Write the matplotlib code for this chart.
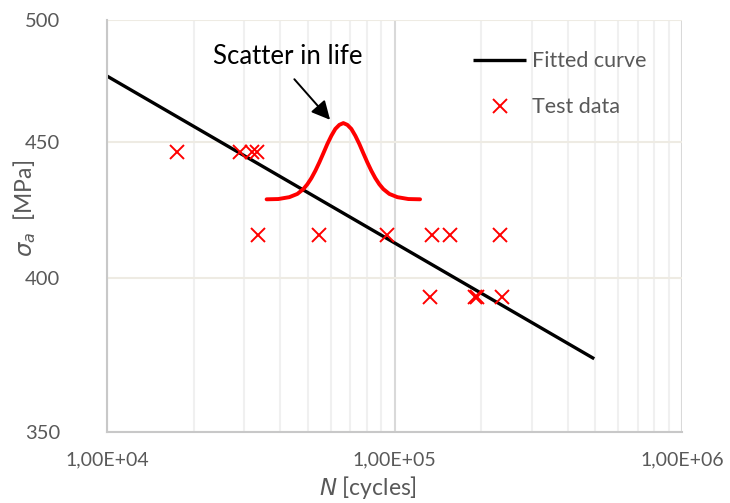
import matplotlib
matplotlib.use("Agg")
import matplotlib.pyplot as plt
from matplotlib.ticker import FixedLocator, NullLocator, LogLocator, NullFormatter

plt.rcParams['font.family'] = ['Lato', 'DejaVu Sans']
plt.rcParams['mathtext.fontset'] = 'dejavusans'

# Fitted curve (straight in log-log)
fit_N = [1.0e4, 4.95e5]
fit_S = [476.3, 372.9]

# Test data
test_N = [17500, 29000, 32000, 33300, 33500, 54600, 94200, 135000, 156000, 232800,
          132900, 190000, 194000, 236500]
test_S = [446, 446, 446, 446, 415, 415, 415, 415, 415, 415,
          393.5, 393.5, 393.5, 393.5]

# Scatter-in-life bell curve
bell_N = [35900, 39430, 43070, 45920, 48180, 49740, 51370, 53040, 54760, 56550, 58390,
          60290, 62250, 64280, 66370, 68530, 70760, 73070, 75440, 77900, 80440, 83060,
          85760, 88550, 91430, 95930, 102280, 111720, 122700]
bell_S = [428.1, 428.2, 428.9, 430.1, 431.9, 433.7, 436.0, 438.8, 442.0, 445.5, 449.1,
          452.3, 455.0, 456.6, 457.3, 456.6, 455.0, 452.3, 449.1, 445.5, 442.0, 438.8,
          436.0, 433.7, 431.9, 430.1, 428.9, 428.2, 428.1]

# Annotation
note_text = 'Scatter in life'
note_text_pos = (42640, 484.5)
arrow_tail = (44830, 475.0)
arrow_tip = (59680, 458.6)

y_ticks = [350, 400, 450, 500]
x_ticks = [1e4, 1e5, 1e6]
x_tick_labels = ["1,00E+04", "1,00E+05", "1,00E+06"]

grey_txt = '#595959'

fig = plt.figure(figsize=(7.30, 5.03), dpi=100)
ax = fig.add_axes([0.1466, 0.1412, 0.7877, 0.8191])
ax.set_xscale('log')
ax.set_yscale('log')
ax.set_xlim(1e4, 1e6)
ax.set_ylim(350, 500)

ax.yaxis.set_major_locator(FixedLocator(y_ticks))
ax.yaxis.set_minor_locator(NullLocator())
ax.set_yticklabels([str(v) for v in y_ticks])
ax.xaxis.set_major_locator(FixedLocator(x_ticks))
ax.set_xticklabels(x_tick_labels)
ax.xaxis.set_minor_locator(LogLocator(base=10, subs=range(2, 10)))
ax.xaxis.set_minor_formatter(NullFormatter())

ax.grid(True, which='major', axis='y', color='#eeebe3', lw=1.5)
ax.grid(True, which='major', axis='x', color='#d9d9d9', lw=1.5)
ax.grid(True, which='minor', axis='x', color='#f0f0f0', lw=1.5)
ax.set_axisbelow(True)

for s in ['top', 'right']:
    ax.spines[s].set_visible(False)
ax.spines['left'].set_color('#c8c8c8')
ax.spines['bottom'].set_color('#c8c8c8')
ax.spines['left'].set_linewidth(1.5)
ax.spines['bottom'].set_linewidth(1.5)

ax.tick_params(which='both', length=0)
ax.tick_params(axis='y', pad=59, labelsize=14.5, labelcolor=grey_txt)
ax.tick_params(axis='x', pad=14, labelsize=14, labelcolor=grey_txt)
for lab in ax.get_yticklabels():
    lab.set_horizontalalignment('left')

ax.plot(fit_N, fit_S, color='black', lw=2.4, solid_capstyle='butt', label='Fitted curve')
ax.plot(test_N, test_S, ls='none', marker='x', ms=10.5, mew=1.4, color='#ff0000', label='Test data')
ax.plot(bell_N, bell_S, color='#ff0000', lw=2.8, solid_capstyle='round', solid_joinstyle='round')

ax.text(note_text_pos[0], note_text_pos[1], note_text, fontsize=18.5, color='black',
        ha='center', va='center')
ax.annotate('', xy=arrow_tip, xytext=arrow_tail,
            arrowprops=dict(arrowstyle='-|>', color='black', lw=1.4,
                            mutation_scale=28, shrinkA=0, shrinkB=0))

leg = ax.legend(loc='upper left', bbox_to_anchor=(0.6365, 0.924), frameon=False,
                borderpad=0, borderaxespad=0,
                fontsize=15.5, handlelength=2.47, labelspacing=1.2, handletextpad=0.28,
                labelcolor=grey_txt)

ax.set_xlabel(r'$N$ [cycles]', fontsize=16.5, color=grey_txt)
ax.xaxis.set_label_coords((368 - 107) / 575, -(488 - 432) / 412)
ax.set_ylabel(r'$\sigma_a$  [MPa]', fontsize=16.5, color=grey_txt)
ax.yaxis.set_label_coords(-(107 - 25) / 575, (432 - 209) / 412)
ax.xaxis.label.set_va('center')
ax.yaxis.label.set_va('center')

fig.savefig('out.png', dpi=100)
